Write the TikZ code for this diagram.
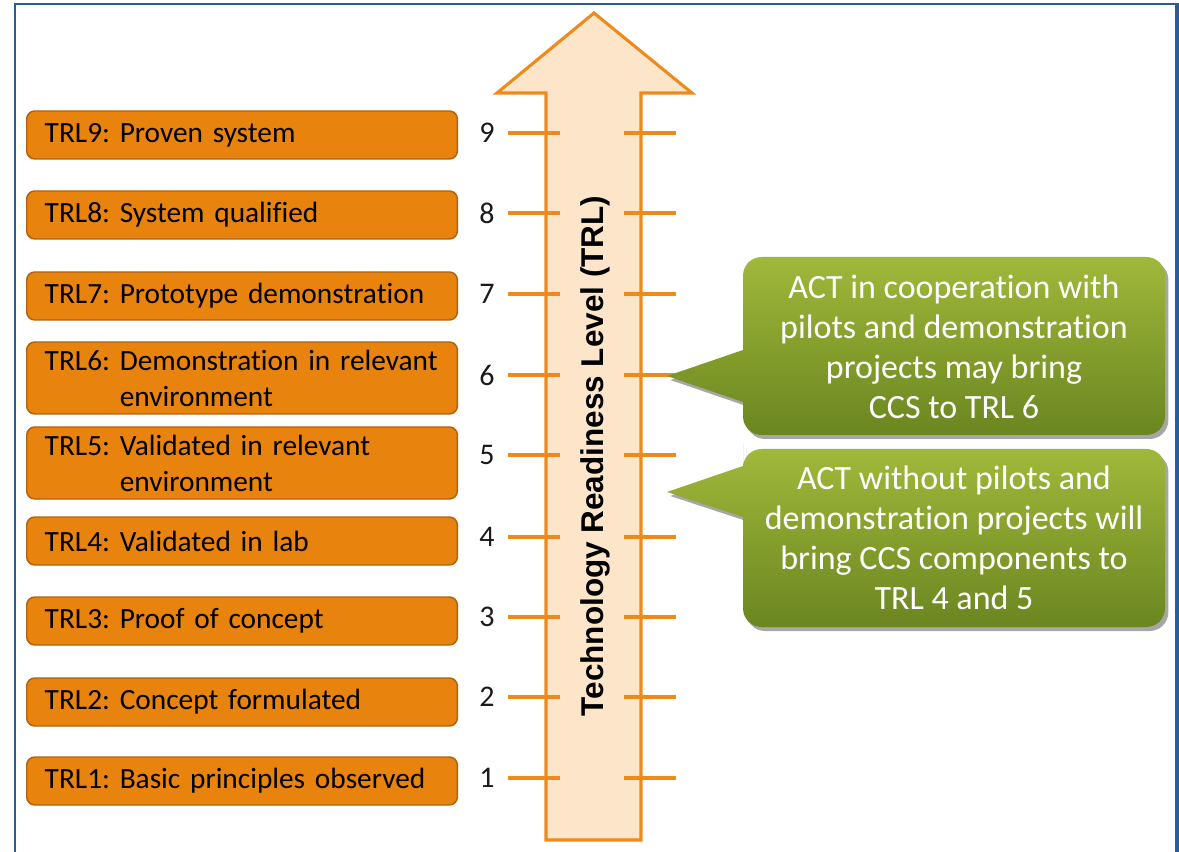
\documentclass[tikz,border=0pt]{standalone}
\usepackage{fontspec}
\setmainfont{Carlito}[Ligatures=NoCommon]
\newfontfamily\titlefont{Liberation Sans}
\usetikzlibrary{shadows}
\definecolor{borderblue}{HTML}{2E5A95}
\definecolor{trlorange}{HTML}{E8830D}
\definecolor{trledge}{HTML}{B0620E}
\definecolor{arrowfill}{HTML}{FDE5CA}
\definecolor{arrowline}{HTML}{EE8A1C}
\definecolor{greentop}{HTML}{A0B83A}
\definecolor{greenbot}{HTML}{6A8620}
\definecolor{numcol}{HTML}{1A1A1A}
\frenchspacing
\hyphenpenalty=10000
\begin{document}
\begin{tikzpicture}[x=0.75pt,y=-0.75pt,
  trlbox/.style={draw=trledge, line width=1.1pt, fill=trlorange, rounded corners=6pt,
    anchor=west, text width=296pt, inner xsep=13.5pt, inner ysep=0pt, align=left,
    font=\fontsize{22}{27}\selectfont, text=black},
  single/.style={minimum height=36pt},
  double/.style={minimum height=54pt},
  numlbl/.style={font=\fontsize{22.5}{26}\selectfont, text=numcol, inner sep=0pt},
  tick/.style={draw=arrowline, line width=3pt},
  callout/.style={top color=greentop, bottom color=greenbot,
    drop shadow={shadow xshift=2.5pt, shadow yshift=-3pt, opacity=0.35, fill=black}},
  callouttext/.style={text=white, align=center, font=\fontsize{25.5}{30}\selectfont, inner sep=0pt}
]
\useasboundingbox (0,0) rectangle (1179,852);
% frame
\draw[borderblue, line width=1.6pt] (15,852) -- (15,4) -- (1177,4);
\draw[borderblue, line width=2.4pt] (1177,3) -- (1177,852);

% big arrow
\draw[arrowline, fill=arrowfill, line width=2.3pt, line join=miter]
  (546,840) -- (546,93) -- (497,93) -- (594,13) -- (692,93) -- (641,93) -- (641,840) -- cycle;

% ticks and numbers
\foreach \n/\y in {9/133,8/213,7/294,6/375,5/455,4/537,3/617,2/697,1/778}{
  \draw[tick] (508,\y) -- (560,\y);
  \draw[tick] (624,\y) -- (676,\y);
  \node[numlbl] (num\n) at (487,\y) {\n};
}

% title
\node[rotate=90, font=\titlefont\bfseries\fontsize{23.6}{26}\selectfont, text=black, inner sep=0pt] (title) at (595,456) {Technology Readiness Level (TRL)};

% TRL boxes
\node[trlbox, single] (trl9) at (26,135) {TRL9: Proven system};
\node[trlbox, single] (trl8) at (26,215) {TRL8: System qualified};
\node[trlbox, single] (trl7) at (26,296) {TRL7: Prototype demonstration};
\node[trlbox, double] (trl6) at (26,378) {TRL6: Demonstration in relevant\\\phantom{TRL6:~}environment};
\node[trlbox, double] (trl5) at (26,463) {TRL5: Validated in relevant\\\phantom{TRL5:~}environment};
\node[trlbox, single] (trl4) at (26,541) {TRL4: Validated in lab};
\node[trlbox, single] (trl3) at (26,621) {TRL3: Proof of concept};
\node[trlbox, single] (trl2) at (26,702) {TRL2: Concept formulated};
\node[trlbox, single] (trl1) at (26,781) {TRL1: Basic principles observed};

% callouts
\path[callout] (667,376) -- (743,402) -- (743,418) [rounded corners=14pt] -- (743,435) -- (1165,435)
  -- (1165,257) -- (743,257) -- (743,330) [sharp corners] -- (743,350) -- cycle;
\node[callouttext] (c1) at (954,347) {ACT in cooperation with\\pilots and demonstration\\projects may bring\\CCS to TRL 6};

\path[callout] (667,492) -- (743,517) -- (743,560) [rounded corners=14pt] -- (743,627) -- (1165,627)
  -- (1165,449) -- (743,449) -- (743,462) [sharp corners] -- (743,466) -- cycle;
\node[callouttext] (c2) at (954,538) {ACT without pilots and\\demonstration projects will\\bring CCS components to\\TRL 4 and 5};
\end{tikzpicture}
\end{document}
